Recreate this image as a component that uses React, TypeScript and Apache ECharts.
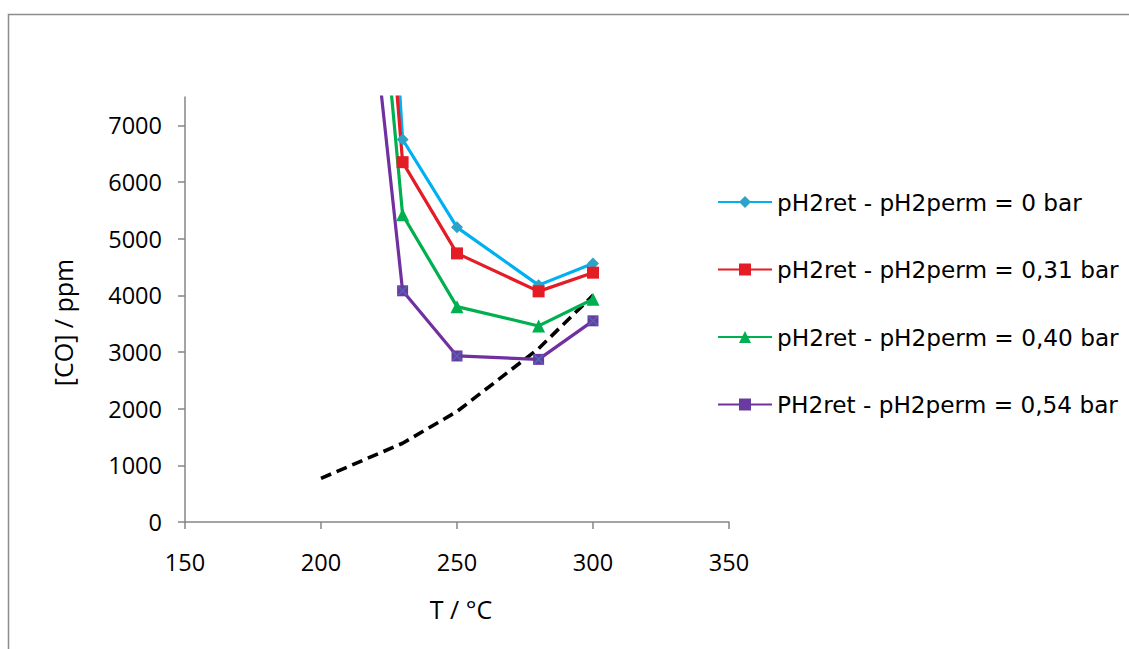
import React, { useEffect, useRef } from "react";
import * as echarts from "echarts";

// Temperature (°C) and CO concentration (ppm) for each pressure difference
const temps = [220, 230, 250, 280, 300];
const co0bar = [14600, 6750, 5200, 4180, 4560];
const co031bar = [12250, 6350, 4740, 4070, 4400];
const co040bar = [10620, 5420, 3800, 3460, 3930];
const co054bar = [8520, 4080, 2930, 2870, 3550];

// Equilibrium reference curve (dashed)
const eqTemps = [200, 230, 250, 280, 300];
const eqCo = [770, 1390, 1950, 3060, 4000];

const seriesNames = [
  "pH2ret - pH2perm = 0 bar",
  "pH2ret - pH2perm = 0,31 bar",
  "pH2ret - pH2perm = 0,40 bar",
  "PH2ret - pH2perm = 0,54 bar",
];

const yTicks = [0, 1000, 2000, 3000, 4000, 5000, 6000, 7000];

const pairs = (xs: number[], ys: number[]) => xs.map((x, i) => [x, ys[i]]);

export default function App() {
  const ref = useRef<HTMLDivElement>(null);

  useEffect(() => {
    if (!ref.current) return;
    const chart = echarts.init(ref.current, null, { renderer: "svg" });
    const axisColor = "#868686";
    const tickFont = { fontFamily: "Open Sans", fontSize: 23.5, color: "#000" };
    const titleFont = { fontFamily: "Open Sans", fontSize: 25, color: "#000" };

    const lineSeries = (
      name: string,
      ys: number[],
      color: string,
      markerColor: string,
      symbol: string,
      symbolSize: number
    ) => ({
      name,
      type: "line",
      data: pairs(temps, ys),
      symbol,
      symbolSize,
      showSymbol: true,
      clip: true,
      lineStyle: { color, width: 3.2 },
      itemStyle: { color: markerColor, borderWidth: 0 },
      z: 3,
    });

    chart.setOption({
      animation: false,
      backgroundColor: "#ffffff",
      grid: { left: 185, top: 97, width: 544, height: 425, containLabel: false },
      xAxis: {
        type: "value",
        min: 150,
        max: 350,
        interval: 50,
        name: "T / °C",
        nameLocation: "middle",
        nameGap: 74,
        nameTextStyle: { ...titleFont, padding: [0, 0, 0, 8] },
        axisLine: { show: true, onZero: false, lineStyle: { color: axisColor, width: 1.5 } },
        axisTick: { show: true, inside: false, length: 7, lineStyle: { color: axisColor, width: 1.5 } },
        axisLabel: { ...tickFont, margin: 28 },
        splitLine: { show: false },
      },
      yAxis: {
        type: "value",
        min: 0,
        max: 7500,
        name: "[CO] / ppm",
        nameLocation: "middle",
        nameGap: 110,
        nameRotate: 90,
        nameTextStyle: { ...titleFont, padding: [0, 26, 0, 0] },
        axisLine: { show: true, onZero: false, lineStyle: { color: axisColor, width: 1.5 } },
        axisTick: {
          show: true,
          inside: false,
          length: 7,
          customValues: yTicks,
          lineStyle: { color: axisColor, width: 1.5 },
        },
        axisLabel: {
          ...tickFont,
          margin: 23,
          customValues: yTicks,
          formatter: (v: number) => (v > 7000 ? "" : String(v)),
        },
        splitLine: { show: false },
      },
      legend: {
        data: seriesNames,
        orient: "vertical",
        left: 717,
        top: 189,
        padding: 0,
        itemWidth: 54,
        itemHeight: 15,
        itemGap: 41.5,
        textStyle: { fontFamily: "DejaVu Sans", fontSize: 23.2, color: "#000", lineHeight: 26 },
      },
      graphic: [
        {
          type: "rect",
          left: 6,
          top: 12,
          shape: { x: 0, y: 0, width: 1200, height: 700 },
          style: { fill: "none", stroke: "#8c8c8c", lineWidth: 1.5 },
          silent: true,
          z: -1,
        },
      ],
      series: [
        {
          name: "equilibrium",
          type: "line",
          data: pairs(eqTemps, eqCo),
          symbol: "none",
          lineStyle: { color: "#000", width: 3.6, type: [11, 6] },
          z: 2,
        },
        lineSeries(seriesNames[0], co0bar, "#00b0f0", "#2ea3c8", "diamond", 12),
        lineSeries(seriesNames[1], co031bar, "#e31c25", "#e31c25", "rect", 12),
        lineSeries(seriesNames[2], co040bar, "#00b050", "#00b050", "triangle", 13),
        lineSeries(seriesNames[3], co054bar, "#7030a0", "#6a3b9e", "rect", 11),
        {
          name: "marker-cross",
          type: "scatter",
          data: pairs(temps, co054bar),
          symbol: "path://M0,0 L10,10 M10,0 L0,10",
          symbolSize: 9,
          clip: true,
          itemStyle: { color: "none", borderColor: "#4a6fc0", borderWidth: 1.5 },
          z: 4,
        },
      ],
    });

    return () => chart.dispose();
  }, []);

  return (
    <div
      ref={ref}
      style={{ position: "fixed", left: 0, top: 0, width: 1129, height: 649, background: "#fff" }}
    />
  );
}
